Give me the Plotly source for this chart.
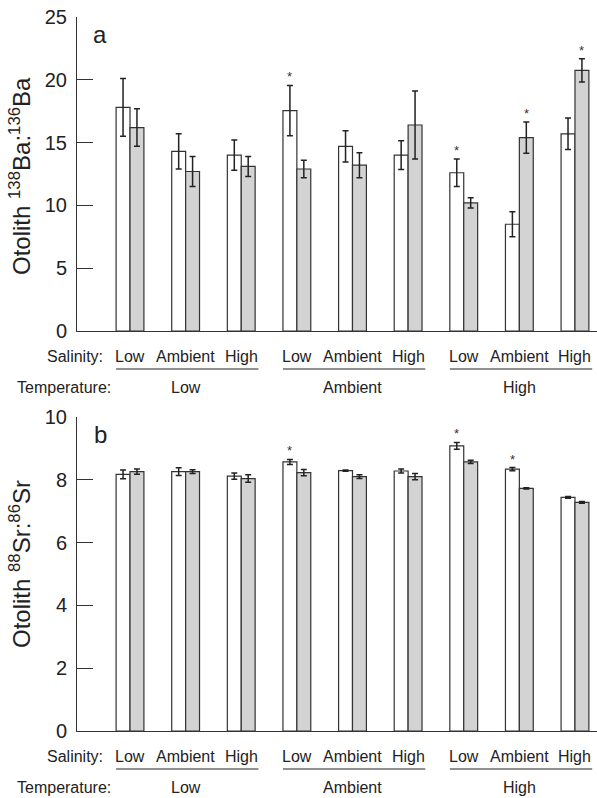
import plotly.graph_objects as go

# ---------------- data ----------------
salinity = ["Low", "Ambient", "High"] * 3
temperature = ["Low", "Ambient", "High"]

ba_white = [17.8, 14.3, 14.0, 17.55, 14.7, 14.0, 12.6, 8.5, 15.7]
ba_white_err = [2.3, 1.4, 1.2, 2.0, 1.25, 1.15, 1.1, 1.0, 1.25]
ba_grey = [16.2, 12.7, 13.1, 12.9, 13.2, 16.4, 10.2, 15.4, 20.75]
ba_grey_err = [1.5, 1.2, 0.8, 0.7, 1.0, 2.7, 0.4, 1.25, 0.93]
ba_star_white = [False, False, False, True, False, False, True, False, False]
ba_star_grey = [False, False, False, False, False, False, False, True, True]

sr_white = [8.17, 8.26, 8.12, 8.57, 8.29, 8.28, 9.08, 8.34, 7.44]
sr_white_err = [0.14, 0.12, 0.10, 0.08, 0.02, 0.06, 0.11, 0.05, 0.03]
sr_grey = [8.26, 8.26, 8.04, 8.23, 8.10, 8.10, 8.57, 7.73, 7.28]
sr_grey_err = [0.08, 0.06, 0.12, 0.10, 0.06, 0.10, 0.05, 0.02, 0.03]
sr_star_white = [False, False, False, True, False, False, True, True, False]
sr_star_grey = [False] * 9

# ---------------- figure ----------------
FONT = "Liberation Sans, Arial, Helvetica, sans-serif"
TXT = "#222222"
LINE = "#333333"
GREY = "#d3d3d3"
xpos = list(range(len(salinity)))

fig = go.Figure()

def add_bars(vals, errs, color, xa, ya):
    fig.add_trace(go.Bar(
        x=xpos, y=vals, xaxis=xa, yaxis=ya,
        marker=dict(color=color, line=dict(color=LINE, width=1.2)),
        error_y=dict(type="data", array=errs, visible=True,
                     color=TXT, thickness=1.5, width=3),
        showlegend=False, hoverinfo="skip"))

add_bars(ba_white, ba_white_err, "white", "x", "y")
add_bars(ba_grey, ba_grey_err, GREY, "x", "y")
add_bars(sr_white, sr_white_err, "white", "x2", "y2")
add_bars(sr_grey, sr_grey_err, GREY, "x2", "y2")

W, H = 597, 798
ML, MR, MT, MB = 77, 0, 17, 67
plot_h = H - MT - MB
top_a, bot_a = 17, 331
top_b, bot_b = 417, 731
def py(px):
    return 1 - (px - MT) / plot_h

xrange_ = [-0.953, 8.396]
common_x = dict(range=xrange_, showline=True, linecolor=LINE, linewidth=1,
                showticklabels=False, ticks="", showgrid=False, zeroline=False,
                fixedrange=True)
common_y = dict(showline=True, linecolor=LINE, linewidth=1, ticks="inside",
                ticklen=16, tickwidth=1, tickcolor=LINE, showgrid=False,
                zeroline=False, tickfont=dict(family=FONT, size=20, color=TXT),
                ticklabelstandoff=5)

fig.update_layout(
    width=W, height=H,
    margin=dict(l=ML, r=MR, t=MT, b=MB),
    paper_bgcolor="white", plot_bgcolor="white",
    barmode="group", bargap=0.5, bargroupgap=0,
    font=dict(family=FONT, color=TXT),
    xaxis=dict(domain=[0, 1], anchor="y", **common_x),
    yaxis=dict(domain=[py(bot_a), py(top_a)], anchor="x", range=[0, 25],
               tickvals=[0, 5, 10, 15, 20, 25], **common_y),
    xaxis2=dict(domain=[0, 1], anchor="y2", **common_x),
    yaxis2=dict(domain=[py(bot_b), py(top_b)], anchor="x2", range=[0, 10],
                tickvals=[0, 2, 4, 6, 8, 10], **common_y),
)

ann = []
shapes = []

def px_x(px):
    return (px - ML) / (W - ML - MR)

panels = [
    ("x", "y", "a", "Otolith <sup>138</sup>Ba:<sup>136</sup>Ba", 176,
     ba_white, ba_white_err, ba_grey, ba_grey_err, ba_star_white, ba_star_grey),
    ("x2", "y2", "b", "Otolith <sup>88</sup>Sr:<sup>86</sup>Sr", 564,
     sr_white, sr_white_err, sr_grey, sr_grey_err, sr_star_white, sr_star_grey),
]

STAR = "#333333"
for xa, ya, letter, title, tcy, wv, we, gv, ge, sw, sg in panels:
    yd = ya + " domain"
    ann.append(dict(text=letter, xref="paper", yref=yd, x=px_x(100), y=1,
                    xanchor="center", yanchor="top", yshift=-2, showarrow=False,
                    font=dict(size=24, color=TXT, family=FONT)))
    ann.append(dict(text=title, xref="paper", yref="paper", x=px_x(20), y=py(tcy),
                    xanchor="center", yanchor="middle", textangle=-90,
                    showarrow=False, font=dict(size=24, color=TXT, family=FONT)))
    for i in xpos:
        if sw[i]:
            ann.append(dict(text="*", xref=xa, yref=ya, x=i - 0.125, y=wv[i] + we[i],
                            yanchor="bottom", showarrow=False, yshift=-1,
                            font=dict(size=13, color=STAR, family=FONT)))
        if sg[i]:
            ann.append(dict(text="*", xref=xa, yref=ya, x=i + 0.125, y=gv[i] + ge[i],
                            yanchor="bottom", showarrow=False, yshift=-1,
                            font=dict(size=13, color=STAR, family=FONT)))
    ann.append(dict(text="Salinity:", xref="paper", yref=yd, x=px_x(105), y=0,
                    xanchor="right", yanchor="middle", yshift=-25, showarrow=False,
                    font=dict(size=16, color=TXT, family=FONT)))
    for i, s in enumerate(salinity):
        ann.append(dict(text=s, xref=xa, yref=yd, x=i, y=0, xanchor="center",
                        yanchor="middle", yshift=-25, showarrow=False,
                        font=dict(size=16, color=TXT, family=FONT)))
    ann.append(dict(text="Temperature:", xref="paper", yref=yd, x=px_x(113), y=0,
                    xanchor="right", yanchor="middle", yshift=-56, showarrow=False,
                    font=dict(size=16, color=TXT, family=FONT)))
    for g, t in enumerate(temperature):
        mid = 3 * g + 1
        ann.append(dict(text=t, xref=xa, yref=yd, x=mid, y=0, xanchor="center",
                        yanchor="middle", yshift=-56, showarrow=False,
                        font=dict(size=16, color=TXT, family=FONT)))
        shapes.append(dict(type="line", xref=xa, yref=yd, ysizemode="pixel",
                           yanchor=0, x0=mid - 1.25, x1=mid + 1.31, y0=-38, y1=-38,
                           line=dict(color=TXT, width=1.2)))

fig.update_layout(annotations=ann, shapes=shapes)
fig.write_html(
    "out.html",
    config={"displayModeBar": False},
    post_script="document.body.style.margin='0';document.body.style.padding='0';"
                "document.documentElement.style.overflow='hidden';",
)
